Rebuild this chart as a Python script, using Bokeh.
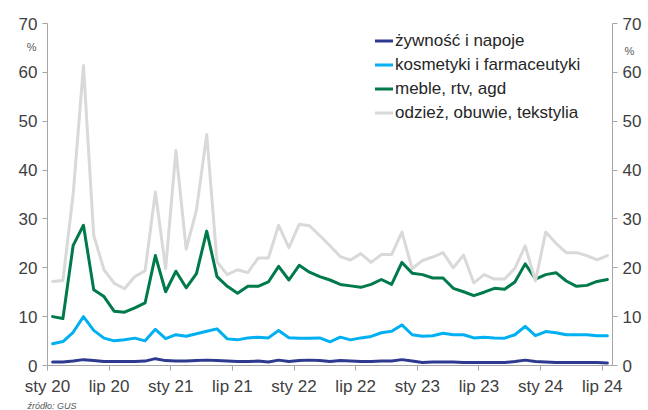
from bokeh.plotting import figure
from bokeh.models import Range1d, LinearAxis, FixedTicker, Legend, LegendItem, Title
from bokeh.embed import file_html
from bokeh.resources import INLINE

# Monthly series, Jan 2020 - Jul 2024 (share of online sales, %)
month_names = ["sty", "lut", "mar", "kwi", "maj", "cze", "lip", "sie", "wrz", "paź", "lis", "gru"]
months = [f"{m} {y:02d}" for y in range(20, 25) for m in month_names][:55]

zywnosc = [0.7, 0.7, 0.9, 1.2, 1.0, 0.8, 0.8, 0.8, 0.8, 0.9, 1.4, 1.0, 0.9, 0.9, 1.0,
           1.1, 1.0, 0.9, 0.8, 0.8, 0.9, 0.7, 1.1, 0.8, 1.0, 1.1, 1.0, 0.8, 1.0, 0.9,
           0.8, 0.8, 0.9, 0.9, 1.2, 0.9, 0.6, 0.7, 0.7, 0.7, 0.6, 0.6, 0.6, 0.6, 0.6,
           0.8, 1.1, 0.8, 0.7, 0.6, 0.6, 0.6, 0.6, 0.6, 0.5]
kosmetyki = [4.45, 4.9, 6.8, 10.0, 7.2, 5.6, 5.05, 5.25, 5.6, 5.05, 7.4, 5.5, 6.3, 6.0, 6.5,
             7.0, 7.5, 5.45, 5.25, 5.65, 5.8, 5.65, 7.15, 5.7, 5.6, 5.6, 5.65, 4.85, 5.8, 5.25,
             5.65, 5.95, 6.7, 7.0, 8.3, 6.3, 6.0, 6.1, 6.6, 6.3, 6.3, 5.65, 5.8, 5.65, 5.6,
             6.3, 8.0, 6.1, 6.95, 6.7, 6.3, 6.3, 6.3, 6.1, 6.1]
meble = [10.0, 9.6, 24.6, 28.7, 15.5, 14.1, 11.1, 10.9, 11.8, 12.8, 22.5, 15.1, 19.3, 15.9, 18.8,
         27.5, 18.2, 16.2, 14.8, 16.2, 16.2, 17.1, 20.3, 17.5, 20.5, 19.1, 18.2, 17.5, 16.6, 16.3,
         16.0, 16.6, 17.6, 16.6, 21.1, 18.9, 18.6, 17.9, 17.9, 15.8, 15.1, 14.3, 15.0, 15.8, 15.6,
         17.1, 20.8, 17.7, 18.6, 19.0, 17.3, 16.2, 16.4, 17.2, 17.6]
odziez = [17.2, 17.4, 35.1, 61.4, 26.6, 19.6, 16.8, 15.7, 18.2, 19.4, 35.5, 19.8, 44.0, 23.8, 31.8,
          47.3, 21.2, 18.6, 19.6, 19.0, 22.0, 22.0, 28.7, 24.1, 28.9, 28.6, 26.6, 24.5, 22.3, 21.6,
          22.9, 21.1, 22.7, 22.7, 27.3, 19.8, 21.5, 22.2, 23.1, 20.0, 22.6, 16.9, 18.6, 17.7, 17.7,
          19.9, 24.5, 17.3, 27.3, 25.0, 23.1, 23.1, 22.5, 21.6, 22.5]

series_names = ["żywność i napoje", "kosmetyki i farmaceutyki", "meble, rtv, agd",
                "odzież, obuwie, tekstylia"]
series_values = [zywnosc, kosmetyki, meble, odziez]
series_colors = ["#2E3A8F", "#00B0F0", "#007A4A", "#D9D9D9"]

y_ticks = [0, 10, 20, 30, 40, 50, 60, 70]
unit_label = "%"
unit_left_at = 65.2    # height of the unit marker beside each value axis
unit_right_at = 64.4
source_text = "źródło: GUS"

# each month occupies one unit; points sit in the middle of their month
x = [i + 0.5 for i in range(len(months))]
tick_idx = [i for i, m in enumerate(months) if m.startswith(("sty", "lip"))]
tick_labels = {i: months[i] for i in tick_idx}

FONT = "Liberation Sans"
AXIS_GREY = "#A6A6A6"
TEXT = "#404040"

p = figure(width=648, height=410, output_backend="svg", toolbar_location=None,
           x_range=Range1d(0, len(months)), y_range=Range1d(0, 70),
           min_border_left=47, min_border_right=36, min_border_top=23, min_border_bottom=45)
p.xgrid.visible = False
p.ygrid.visible = False
p.outline_line_color = None
p.background_fill_color = "white"
p.border_fill_color = "white"

renderers = []
for name, vals, col in zip(series_names, series_values, series_colors):
    r = p.line(x, vals, line_color=col, line_width=3, line_join="round", line_cap="round")
    renderers.append(r)

def style_axis(ax):
    ax.axis_line_color = AXIS_GREY
    ax.major_tick_line_color = AXIS_GREY
    ax.major_tick_in = 0
    ax.major_tick_out = 5
    ax.minor_tick_line_color = None
    ax.major_label_text_font = FONT
    ax.major_label_text_font_size = "17px"
    ax.major_label_text_color = TEXT

xa = p.xaxis[0]
xa.ticker = FixedTicker(ticks=tick_idx)
xa.major_label_overrides = tick_labels
style_axis(xa)
xa.major_label_standoff = 6

ya = p.yaxis[0]
ya.ticker = FixedTicker(ticks=y_ticks)
style_axis(ya)

yr = LinearAxis(ticker=FixedTicker(ticks=y_ticks))
style_axis(yr)
p.add_layout(yr, "right")

# small "%" unit markers: bare outer axes, pulled back next to the value labels
def unit_axis(at, standoff):
    return LinearAxis(ticker=FixedTicker(ticks=[at]), major_label_overrides={at: unit_label},
                      axis_line_color=None, major_tick_line_color=None,
                      minor_tick_line_color=None, major_tick_out=0, major_tick_in=0,
                      major_label_standoff=standoff, major_label_text_font=FONT,
                      major_label_text_font_size="11px", major_label_text_color="#595959")

p.add_layout(unit_axis(unit_left_at, -21), "left")
p.add_layout(unit_axis(unit_right_at, -20), "right")

legend = Legend(items=[LegendItem(label=n, renderers=[r]) for n, r in zip(series_names, renderers)],
                location=(328, 242), border_line_color=None, background_fill_alpha=0,
                padding=0, margin=0, spacing=3, glyph_width=18, glyph_height=21,
                label_height=21, label_standoff=2, label_text_font=FONT,
                label_text_font_size="17px", label_text_color="#262626")
p.add_layout(legend)

p.add_layout(Title(text=source_text, align="left", offset=-20, standoff=0,
                   vertical_align="bottom", text_font=FONT, text_font_size="9px",
                   text_font_style="italic", text_color="#595959"), "below")

open("out.html", "w").write(file_html(p, INLINE))
